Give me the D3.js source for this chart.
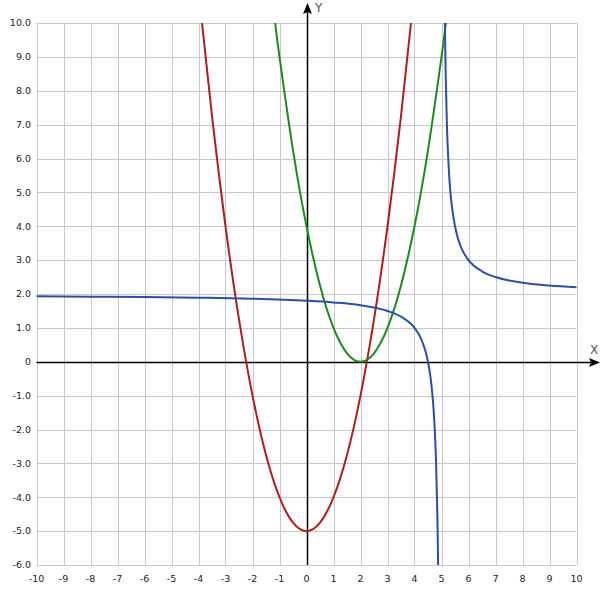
<!DOCTYPE html>
<html>
<head>
<meta charset="utf-8">
<script src="https://cdn.jsdelivr.net/npm/d3@7"></script>
<style>
  body { margin: 0; background: #fff; }
  svg { display: block; }
  .tick-label { font-family: "DejaVu Sans", Verdana, sans-serif; font-size: 9.5px; fill: #222; }
  .axis-name { font-family: "DejaVu Sans", Verdana, sans-serif; font-size: 12px; fill: #555; }
</style>
</head>
<body>
<svg id="chart"></svg>
<script>
// tick values
var xTicks = [-10, -9, -8, -7, -6, -5, -4, -3, -2, -1, 0, 1, 2, 3, 4, 5, 6, 7, 8, 9, 10];
var yTicks = [-6, -5, -4, -3, -2, -1, 0, 1, 2, 3, 4, 5, 6, 7, 8, 9, 10];

// red curve
var redX = [-3.87, -3.5, -3, -2.5, -2, -1.5, -1, -0.5, 0, 0.5, 1, 1.5, 2, 2.5, 3, 3.5, 3.87];
var redY = [10, 7.25, 4, 1.25, -1, -2.75, -4, -4.75, -5, -4.75, -4, -2.75, -1, 1.25, 4, 7.25, 10];

// green curve
var greenX = [-1.16, -1, -0.5, 0, 0.5, 1, 1.5, 2, 2.5, 3, 3.5, 4, 4.5, 5, 5.16];
var greenY = [10, 9, 6.25, 4, 2.25, 1, 0.25, 0, 0.25, 1, 2.25, 4, 6.25, 9, 10];

// blue curve, left branch
var blueLeftX = [-10, -8, -6, -4, -2, 0, 1, 2, 3, 3.5, 4, 4.25, 4.4, 4.5, 4.6, 4.65, 4.7, 4.75, 4.8, 4.85, 4.875];
var blueLeftY = [1.93, 1.92, 1.91, 1.89, 1.86, 1.8, 1.75, 1.67, 1.5, 1.33, 1.0, 0.67, 0.33, 0, -0.5, -0.86, -1.33, -2, -3, -4.67, -6];

// blue curve, right branch
var blueRightX = [5.125, 5.15, 5.2, 5.25, 5.33, 5.4, 5.5, 5.6, 5.75, 5.8, 6, 6.5, 7, 8, 9, 10];
var blueRightY = [10, 8.67, 7, 6, 5, 4.5, 4, 3.67, 3.33, 3.25, 3, 2.67, 2.5, 2.33, 2.25, 2.2];

var width = 605, height = 598;
var svg = d3.select("#chart").attr("width", width).attr("height", height);

var x = d3.scaleLinear().domain([-10, 10]).range([36.5, 576.5]);
var y = d3.scaleLinear().domain([-6, 10]).range([565, 23]);

// grid
var grid = svg.append("g").attr("stroke", "#c8c8c8").attr("stroke-width", 1);
grid.selectAll(".vgrid").data(xTicks).enter().append("line")
    .attr("x1", d => Math.round(x(d)) + 0.5).attr("x2", d => Math.round(x(d)) + 0.5)
    .attr("y1", y(10)).attr("y2", y(-6));
grid.selectAll(".hgrid").data(yTicks).enter().append("line")
    .attr("y1", d => Math.round(y(d)) + 0.5).attr("y2", d => Math.round(y(d)) + 0.5)
    .attr("x1", x(-10)).attr("x2", x(10));

// tick labels
svg.selectAll(".ylab").data(yTicks).enter().append("text")
    .attr("class", "tick-label")
    .attr("x", 31)
    .attr("y", d => y(d))
    .attr("dy", "0.35em")
    .attr("text-anchor", "end")
    .text(d => d === 0 ? "0" : d.toFixed(1));

svg.selectAll(".xlab").data(xTicks).enter().append("text")
    .attr("class", "tick-label")
    .attr("x", d => x(d))
    .attr("y", 582)
    .attr("text-anchor", "middle")
    .text(d => d);

// axes with arrows
var x0 = Math.round(x(0)) + 0.5, y0 = Math.round(y(0)) + 0.5;
svg.append("line").attr("x1", x(-10)).attr("x2", 592).attr("y1", y0).attr("y2", y0)
    .attr("stroke", "#000").attr("stroke-width", 1.5);
svg.append("line").attr("x1", x0).attr("x2", x0).attr("y1", y(-6)).attr("y2", 12)
    .attr("stroke", "#000").attr("stroke-width", 1.5);
svg.append("path").attr("d", "M600," + y0 + "L589," + (y0 - 4.5) + "L591," + y0 + "L589," + (y0 + 4.5) + "Z")
    .attr("fill", "#000");
svg.append("path").attr("d", "M" + x0 + ",3L" + (x0 - 4.5) + ",14L" + x0 + ",12L" + (x0 + 4.5) + ",14Z")
    .attr("fill", "#000");
svg.append("text").attr("class", "axis-name").attr("x", 590).attr("y", 354).text("X");
svg.append("text").attr("class", "axis-name").attr("x", 315).attr("y", 12).text("Y");

// curves: parabolas get a natural spline, the blue branches a monotone one
var series = [
  { xs: redX, ys: redY, color: "#b01c1c", curve: d3.curveNatural },
  { xs: greenX, ys: greenY, color: "#1c8a1c", curve: d3.curveNatural },
  { xs: blueLeftX, ys: blueLeftY, color: "#2b4fa6", curve: d3.curveMonotoneX },
  { xs: blueRightX, ys: blueRightY, color: "#2b4fa6", curve: d3.curveMonotoneX }
];

svg.append("g").selectAll("path").data(series).enter().append("path")
    .attr("d", s => d3.line()
        .x(d => x(d[0]))
        .y(d => y(d[1]))
        .curve(s.curve)(s.xs.map((v, i) => [v, s.ys[i]])))
    .attr("fill", "none")
    .attr("stroke", s => s.color)
    .attr("stroke-width", 2);
</script>
</body>
</html>
